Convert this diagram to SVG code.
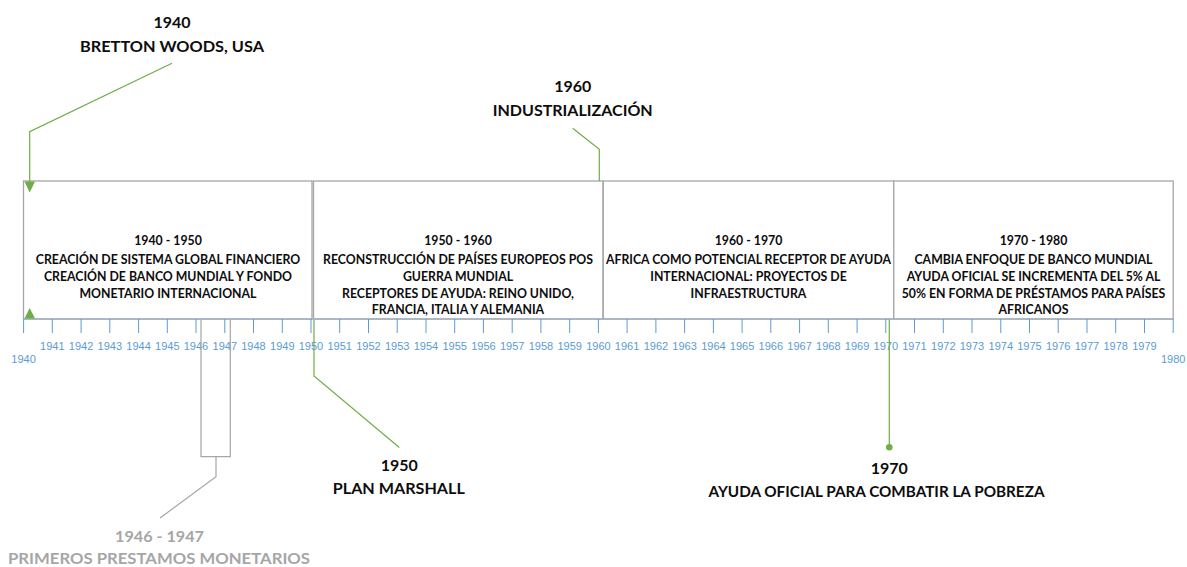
<svg xmlns="http://www.w3.org/2000/svg" width="1187" height="567" viewBox="0 0 1187 567">
<style>
.box{fill:#fff;stroke:#a6a6a6;stroke-width:1.3}
.bt{font-family:Lato,"Liberation Sans",sans-serif;font-weight:bold;font-size:12.3px;fill:#0d0d0d;text-anchor:middle}
.big{font-family:Lato,"Liberation Sans",sans-serif;font-weight:bold;font-size:16px;fill:#0d0d0d;text-anchor:middle}
.gray{fill:#a6a6a6}
.yr{font-family:"Liberation Sans",Arial,sans-serif;font-size:11px;fill:#5b9bd5;text-anchor:middle}
.tick{stroke:#5b9bd5;stroke-width:1}
.g{fill:none;stroke:#70ad47;stroke-width:1.2}
.gr{fill:none;stroke:#a6a6a6;stroke-width:1.2}
</style>
<rect width="1187" height="567" fill="#fff"/>
<g id="box1940">
<rect class="box" x="23.5" y="181" width="288.5" height="138"/>
<text class="bt" x="168" y="245">1940 - 1950</text>
<text class="bt" x="168" y="263.5">CREACIÓN DE SISTEMA GLOBAL FINANCIERO</text>
<text class="bt" x="168" y="281">CREACIÓN DE BANCO MUNDIAL Y FONDO</text>
<text class="bt" x="168" y="297.7">MONETARIO INTERNACIONAL</text>
</g>
<g id="box1950">
<rect class="box" x="313.5" y="181" width="289.5" height="138"/>
<text class="bt" x="458" y="245">1950 - 1960</text>
<text class="bt" x="458" y="263.5">RECONSTRUCCIÓN DE PAÍSES EUROPEOS POS</text>
<text class="bt" x="458" y="281">GUERRA MUNDIAL</text>
<text class="bt" x="458" y="297.7">RECEPTORES DE AYUDA: REINO UNIDO,</text>
<text class="bt" x="458" y="314.3">FRANCIA, ITALIA Y ALEMANIA</text>
</g>
<g id="box1960">
<rect class="box" x="603.3" y="181" width="290.5" height="138"/>
<text class="bt" x="748.5" y="245">1960 - 1970</text>
<text class="bt" x="748.5" y="263.5" textLength="285" lengthAdjust="spacingAndGlyphs">AFRICA COMO POTENCIAL RECEPTOR DE AYUDA</text>
<text class="bt" x="748.5" y="281">INTERNACIONAL: PROYECTOS DE</text>
<text class="bt" x="748.5" y="297.7">INFRAESTRUCTURA</text>
</g>
<g id="box1970">
<rect class="box" x="893.8" y="181" width="279.4" height="138"/>
<text class="bt" x="1033.5" y="245">1970 - 1980</text>
<text class="bt" x="1033.5" y="263.5">CAMBIA ENFOQUE DE BANCO MUNDIAL</text>
<text class="bt" x="1033.5" y="281">AYUDA OFICIAL SE INCREMENTA DEL 5% AL</text>
<text class="bt" x="1033.5" y="297.7">50% EN FORMA DE PRÉSTAMOS PARA PAÍSES</text>
<text class="bt" x="1033.5" y="314.3">AFRICANOS</text>
</g>
<g id="axis">
<line x1="23.5" y1="319" x2="1173.2" y2="319" stroke="#a5b1c2" stroke-width="1.5"/>
<path class="tick" d="M23.6 319V333M52.3 319V333M81.1 319V333M109.8 319V333M138.6 319V333M167.3 319V333M196 319V333M224.8 319V333M253.5 319V333M282.3 319V333M311 319V333M339.7 319V333M368.5 319V333M397.2 319V333M426 319V333M454.7 319V333M483.4 319V333M512.2 319V333M540.9 319V333M569.7 319V333M598.4 319V333M627.1 319V333M655.9 319V333M684.6 319V333M713.4 319V333M742.1 319V333M770.8 319V333M799.6 319V333M828.3 319V333M857.1 319V333M885.8 319V333M914.5 319V333M943.3 319V333M972 319V333M1000.8 319V333M1029.5 319V333M1058.2 319V333M1087 319V333M1115.7 319V333M1144.5 319V333M1173.2 319V333"/>
<text class="yr" x="23.6" y="363">1940</text>
<text class="yr" x="52.3" y="350">1941</text>
<text class="yr" x="81.1" y="350">1942</text>
<text class="yr" x="109.8" y="350">1943</text>
<text class="yr" x="138.6" y="350">1944</text>
<text class="yr" x="167.3" y="350">1945</text>
<text class="yr" x="196" y="350">1946</text>
<text class="yr" x="224.8" y="350">1947</text>
<text class="yr" x="253.5" y="350">1948</text>
<text class="yr" x="282.3" y="350">1949</text>
<text class="yr" x="311" y="350">1950</text>
<text class="yr" x="339.7" y="350">1951</text>
<text class="yr" x="368.5" y="350">1952</text>
<text class="yr" x="397.2" y="350">1953</text>
<text class="yr" x="426" y="350">1954</text>
<text class="yr" x="454.7" y="350">1955</text>
<text class="yr" x="483.4" y="350">1956</text>
<text class="yr" x="512.2" y="350">1957</text>
<text class="yr" x="540.9" y="350">1958</text>
<text class="yr" x="569.7" y="350">1959</text>
<text class="yr" x="598.4" y="350">1960</text>
<text class="yr" x="627.1" y="350">1961</text>
<text class="yr" x="655.9" y="350">1962</text>
<text class="yr" x="684.6" y="350">1963</text>
<text class="yr" x="713.4" y="350">1964</text>
<text class="yr" x="742.1" y="350">1965</text>
<text class="yr" x="770.8" y="350">1966</text>
<text class="yr" x="799.6" y="350">1967</text>
<text class="yr" x="828.3" y="350">1968</text>
<text class="yr" x="857.1" y="350">1969</text>
<text class="yr" x="885.8" y="350">1970</text>
<text class="yr" x="914.5" y="350">1971</text>
<text class="yr" x="943.3" y="350">1972</text>
<text class="yr" x="972" y="350">1973</text>
<text class="yr" x="1000.8" y="350">1974</text>
<text class="yr" x="1029.5" y="350">1975</text>
<text class="yr" x="1058.2" y="350">1976</text>
<text class="yr" x="1087" y="350">1977</text>
<text class="yr" x="1115.7" y="350">1978</text>
<text class="yr" x="1144.5" y="350">1979</text>
<text class="yr" x="1173.2" y="363">1980</text>
</g>
<g id="connectors">
<polyline class="g" points="172,63.3 29.7,131.7 29.7,183"/>
<polygon points="24.5,181.5 35,181.5 29.7,192.5" fill="#70ad47"/>
<polygon points="24.5,318.5 35,318.5 29.7,308" fill="#70ad47"/>
<polyline class="g" points="572.7,128.3 599.3,149.3 599.3,181"/>
<polyline class="g" points="314,320 314,376 399.3,447.5"/>
<line class="g" x1="889.3" y1="319.5" x2="889.3" y2="447"/>
<circle cx="889.3" cy="447.3" r="3.3" fill="#70ad47"/>
<polyline class="gr" points="201,320 201,456.7 230.3,456.7 230.3,320"/>
<polyline class="gr" points="216,456.7 216,476.7 160,518"/>
</g>
<g id="label1940">
<text class="big" x="172" y="28.4">1940</text>
<text class="big" x="172" y="52.4" textLength="184" lengthAdjust="spacingAndGlyphs">BRETTON WOODS, USA</text>
</g>
<g id="label1960">
<text class="big" x="572.7" y="92.4">1960</text>
<text class="big" x="572.7" y="115.7" textLength="160" lengthAdjust="spacingAndGlyphs">INDUSTRIALIZACIÓN</text>
</g>
<g id="label1950">
<text class="big" x="399.3" y="471.4">1950</text>
<text class="big" x="398.8" y="494" textLength="132" lengthAdjust="spacingAndGlyphs">PLAN MARSHALL</text>
</g>
<g id="label1970">
<text class="big" x="889.3" y="474">1970</text>
<text class="big" x="876.5" y="497.4" textLength="336" lengthAdjust="spacingAndGlyphs">AYUDA OFICIAL PARA COMBATIR LA POBREZA</text>
</g>
<g id="label1946">
<text class="big gray" x="159.5" y="541.5" textLength="89" lengthAdjust="spacingAndGlyphs">1946 - 1947</text>
<text class="big gray" x="159" y="563.5" textLength="302" lengthAdjust="spacingAndGlyphs">PRIMEROS PRESTAMOS MONETARIOS</text>
</g>
</svg>
